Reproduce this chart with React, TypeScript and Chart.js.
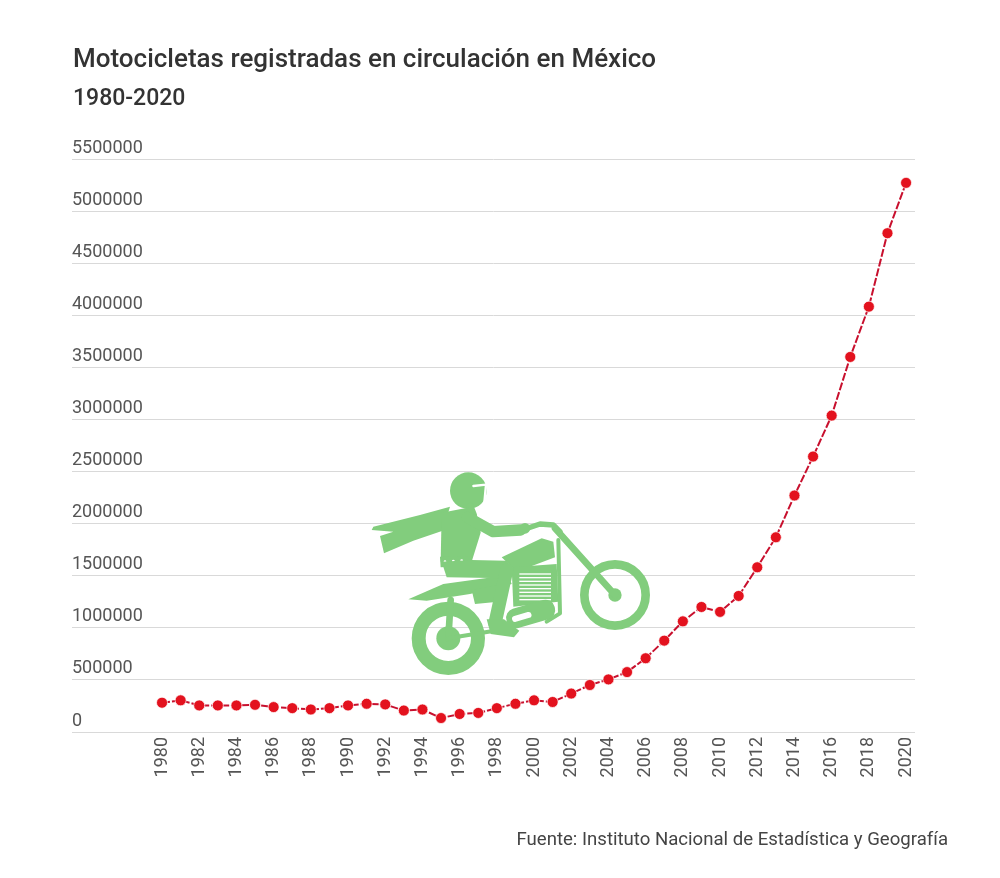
import React, { useEffect, useRef } from 'react'
import Chart from 'chart.js/auto'

// Motocicletas registradas en circulación (INEGI)
const years = [
  1980, 1981, 1982, 1983, 1984, 1985, 1986, 1987, 1988, 1989,
  1990, 1991, 1992, 1993, 1994, 1995, 1996, 1997, 1998, 1999,
  2000, 2001, 2002, 2003, 2004, 2005, 2006, 2007, 2008, 2009,
  2010, 2011, 2012, 2013, 2014, 2015, 2016, 2017, 2018, 2019, 2020,
]

const motos = [
  281000, 304000, 255000, 255000, 255000, 261000, 239000, 229000, 216000, 229000,
  255000, 271000, 265000, 206000, 216000, 134000, 173000, 183000, 229000, 271000,
  304000, 288000, 369000, 451000, 505000, 575000, 708000, 877000, 1062000, 1200000,
  1153000, 1306000, 1581000, 1869000, 2270000, 2644000, 3037000, 3600000, 4083000, 4788000, 5271000,
]

const xTickYears = [
  1980, 1982, 1984, 1986, 1988, 1990, 1992, 1994, 1996, 1998,
  2000, 2002, 2004, 2006, 2008, 2010, 2012, 2014, 2016, 2018, 2020,
]

const yTickValues = [
  0, 500000, 1000000, 1500000, 2000000, 2500000, 3000000,
  3500000, 4000000, 4500000, 5000000, 5500000,
]

const FONT = 'Roboto, "Noto Sans", sans-serif'
const GREEN = '#82cd7d'

// green rider illustration, drawn in a 3x local space
function drawBike(ctx: CanvasRenderingContext2D) {
  ctx.save()
  ctx.translate(360, 460)
  ctx.scale(1 / 3, 1 / 3)
  ctx.fillStyle = GREEN
  ctx.strokeStyle = GREEN
  ctx.lineCap = 'round'
  ctx.lineJoin = 'round'

  const poly = (pts: number[][]) => {
    ctx.beginPath()
    pts.forEach(([x, y], i) => (i ? ctx.lineTo(x, y) : ctx.moveTo(x, y)))
    ctx.closePath()
    ctx.fill()
  }
  const line = (pts: number[][], w: number) => {
    ctx.beginPath()
    pts.forEach(([x, y], i) => (i ? ctx.lineTo(x, y) : ctx.moveTo(x, y)))
    ctx.lineWidth = w
    ctx.stroke()
  }
  const ring = (cx: number, cy: number, r: number, w: number) => {
    ctx.beginPath()
    ctx.arc(cx, cy, r - w / 2, 0, Math.PI * 2)
    ctx.lineWidth = w
    ctx.stroke()
  }
  const dot = (cx: number, cy: number, r: number) => {
    ctx.beginPath()
    ctx.arc(cx, cy, r, 0, Math.PI * 2)
    ctx.fill()
  }

  // wheels
  ring(265, 535, 110, 42)
  dot(265, 535, 36)
  ring(765, 405, 105, 26)
  dot(765, 405, 20)

  // fork + handlebar
  line([[585, 205], [765, 405]], 20)
  line([[480, 212], [540, 192], [580, 195], [600, 215]], 16)

  // rear strut + swingarm
  line([[272, 420], [265, 535]], 20)
  line([[265, 535], [450, 505]], 12)

  // rear fender / seat
  poly([[145, 418], [250, 372], [445, 345], [455, 372], [330, 402], [200, 422]])
  // side panel
  poly([[335, 390], [425, 372], [415, 425], [345, 432]])

  // tank
  poly([[425, 292], [545, 235], [580, 245], [585, 292], [470, 335]])

  // engine block with stripes
  poly([[455, 322], [590, 312], [595, 425], [460, 440]])
  ctx.fillStyle = '#ffffff'
  for (let y = 340; y < 420; y += 11) {
    ctx.fillRect(478, y, 95, 4)
  }
  ctx.fillStyle = GREEN

  // frame down tube
  line([[595, 240], [600, 460], [560, 485]], 12)

  // exhaust
  ctx.save()
  ctx.translate(512, 462)
  ctx.rotate(-0.28)
  ctx.beginPath()
  ctx.roundRect(-75, -30, 150, 60, 28)
  ctx.fill()
  ctx.fillStyle = '#ffffff'
  ctx.beginPath()
  ctx.roundRect(-58, -8, 60, 18, 9)
  ctx.fill()
  ctx.restore()
  ctx.fillStyle = GREEN

  // scarf
  poly([[270, 140], [180, 165], [40, 200], [35, 210], [100, 215], [60, 228], [72, 280], [160, 242], [248, 212]])

  // helmet
  dot(325, 92, 55)
  ctx.strokeStyle = '#ffffff'
  line([[340, 78], [378, 74], [372, 138]], 7)
  ctx.strokeStyle = GREEN
  // neck
  line([[330, 140], [340, 165]], 22)

  // torso
  poly([[245, 158], [330, 142], [358, 178], [362, 218], [335, 305], [242, 305]])
  // belt
  poly([[240, 290], [335, 288], [338, 318], [242, 322]])
  ctx.fillStyle = '#ffffff'
  dot(255, 305, 4)
  dot(280, 303, 4)
  dot(305, 302, 4)
  ctx.fillStyle = GREEN

  // arm + hand
  line([[322, 172], [400, 215], [482, 210]], 34)
  dot(495, 205, 16)

  // thigh
  poly([[245, 305], [335, 300], [440, 302], [462, 330], [440, 355], [260, 352]])
  // shin
  line([[440, 330], [405, 490]], 40)
  // boot
  poly([[380, 478], [432, 478], [478, 512], [462, 532], [392, 522]])

  ctx.restore()
}

const bikePlugin = {
  id: 'bike',
  beforeDatasetsDraw(chart: Chart) {
    drawBike(chart.ctx)
  },
}

export default function App() {
  const chartRef = useRef<HTMLCanvasElement | null>(null)
  const chartInstance = useRef<Chart | null>(null)

  useEffect(() => {
    if (!chartRef.current) return
    const ctx = chartRef.current.getContext('2d')
    if (!ctx) return
    if (chartInstance.current) chartInstance.current.destroy()

    chartInstance.current = new Chart(ctx, {
      type: 'line',
      data: {
        datasets: [
          {
            label: 'Motocicletas',
            data: years.map((y, i) => ({ x: y, y: motos[i] })),
            borderColor: '#c8102e',
            borderWidth: 2,
            borderDash: [8, 2],
            pointRadius: 5.5,
            pointBackgroundColor: '#e3121e',
            pointBorderColor: 'rgba(255,255,255,0.7)',
            pointBorderWidth: 1,
            tension: 0,
          },
        ],
      },
      options: {
        animation: false,
        responsive: true,
        maintainAspectRatio: false,
        layout: { padding: { left: 72, right: 85, top: 159, bottom: 86 } },
        scales: {
          x: {
            type: 'linear',
            min: 1975.16,
            max: 2020.48,
            afterBuildTicks: (scale) => {
              scale.ticks = xTickYears.map(v => ({ value: v }))
            },
            afterFit: (scale) => {
              scale.height = 60
            },
            ticks: {
              minRotation: 90,
              maxRotation: 90,
              autoSkip: false,
              padding: 5,
              color: '#555',
              font: { family: FONT, size: 18 },
              callback: (v) => String(v),
            },
            grid: { display: false, drawTicks: false },
            border: { display: false },
          },
          y: {
            min: 0,
            max: 5500000,
            afterBuildTicks: (scale) => {
              scale.ticks = yTickValues.map(v => ({ value: v }))
            },
            afterFit: (scale) => {
              scale.width = 0
            },
            ticks: {
              mirror: true,
              padding: 0,
              labelOffset: -11,
              color: '#555',
              font: { family: FONT, size: 18 },
              callback: (v) => String(v),
            },
            grid: { color: '#d9d9d9', lineWidth: 1, drawTicks: false },
            border: { display: false },
          },
        },
        plugins: {
          legend: { display: false },
          tooltip: { enabled: false },
        },
      },
      plugins: [bikePlugin],
    })

    return () => {
      if (chartInstance.current) {
        chartInstance.current.destroy()
        chartInstance.current = null
      }
    }
  }, [])

  return (
    <div style={{ position: 'absolute', left: 0, top: 0, width: 1000, height: 878, background: '#fff', fontFamily: FONT }}>
      <div style={{ position: 'absolute', left: 0, top: 0, width: 1000, height: 878 }}>
        <canvas ref={chartRef} />
      </div>
      <div style={{ position: 'absolute', left: 73, top: 45, fontSize: 26, fontWeight: 500, lineHeight: 1, color: '#333', whiteSpace: 'nowrap' }}>
        Motocicletas registradas en circulación en México
      </div>
      <div style={{ position: 'absolute', left: 73, top: 86, fontSize: 23, fontWeight: 500, lineHeight: 1, color: '#333' }}>
        1980-2020
      </div>
      <div style={{ position: 'absolute', right: 52, top: 830, fontSize: 18.6, lineHeight: 1, color: '#444', whiteSpace: 'nowrap' }}>
        Fuente: Instituto Nacional de Estadística y Geografía
      </div>
    </div>
  )
}
